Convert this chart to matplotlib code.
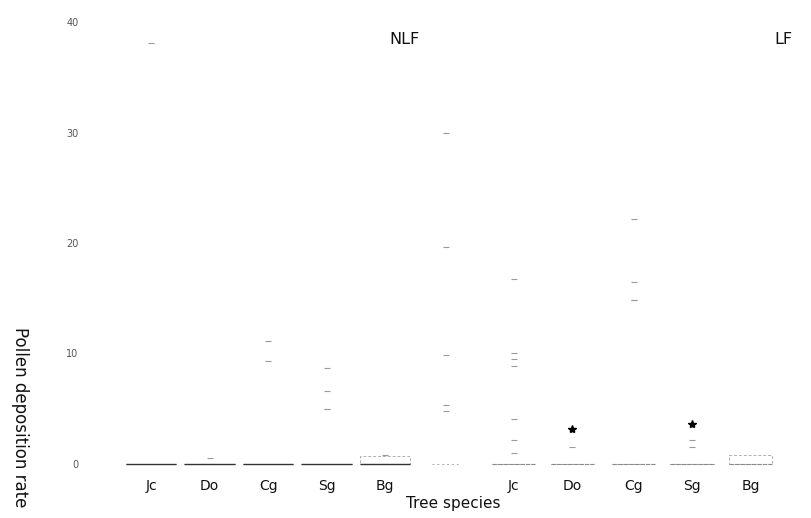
import matplotlib
matplotlib.use("Agg")
import matplotlib.pyplot as plt

# categories
species = ["Jc", "Do", "Cg", "Sg", "Bg"]
nlf_pos = [1, 2, 3, 4, 5]
lf_pos = [7.2, 8.2, 9.25, 10.25, 11.25]
gap_pos = 6.05

# upper quartile of each (collapsed) box, median and lower quartile are 0
nlf_q3 = [0, 0, 0, 0, 0.7]
lf_q3 = [0, 0, 0, 0, 0.8]

# outliers
nlf_fliers = [[38.1], [0.5], [11.1, 9.3], [8.7, 6.6, 5.0, 5.0], [0.8]]
lf_fliers = [[16.7, 10.0, 9.5, 8.9, 4.1, 2.2, 1.0], [1.5], [22.2, 16.5, 14.8, 14.8], [2.2, 1.5], []]
gap_marks = [30, 19.6, 9.9, 5.3, 4.8]

# extreme values (stars)
lf_extremes = [[], [3.2], [], [3.6], []]

yticks = [0, 10, 20, 30, 40]


def make_stats(q3s, fliers):
    stats = []
    for q3, fl in zip(q3s, fliers):
        stats.append({"med": 0, "q1": 0, "q3": q3, "whislo": 0, "whishi": q3, "fliers": fl})
    return stats


fig = plt.figure(figsize=(8.12, 5.18), dpi=100)
ax = fig.add_axes([95 / 812, 1 - 475 / 518, 1 - 95 / 812, 475 / 518])

flier_style = dict(marker="_", markersize=5, markeredgecolor="#9a9a9a", markeredgewidth=0.8, linestyle="none")
faint_box = dict(color="#b0b0b0", linewidth=0.7, linestyle=(0, (3, 2)))

ax.bxp(make_stats(nlf_q3, nlf_fliers), positions=nlf_pos, widths=0.86, showcaps=False,
       boxprops=faint_box,
       medianprops=dict(color="#333333", linewidth=1.0),
       whiskerprops=dict(color="#b0b0b0", linewidth=0.5),
       flierprops=flier_style)
ax.bxp(make_stats(lf_q3, lf_fliers), positions=lf_pos, widths=0.74, showcaps=False,
       boxprops=faint_box,
       medianprops=dict(color="#8a8a8a", linewidth=0.8, linestyle=(0, (4, 1))),
       whiskerprops=dict(color="#b0b0b0", linewidth=0.5),
       flierprops=flier_style)

# faint unlabeled column between the two groups
ax.plot([gap_pos] * len(gap_marks), gap_marks, **flier_style)
ax.plot([gap_pos - 0.25, gap_pos + 0.2], [0, 0], color="#aaaaaa", linewidth=0.7, linestyle=(0, (2, 3)))

for p, ex in zip(lf_pos, lf_extremes):
    if ex:
        ax.plot([p] * len(ex), ex, marker="*", markersize=6, color="black", linestyle="none")

ax.set_xlim(0.04, 12.3)
ax.set_ylim(-1.0, 42.0)
ax.set_yticks(yticks)
ax.set_yticklabels([str(t) for t in yticks], fontsize=7, color="#555555")
ax.set_xticks(nlf_pos + lf_pos)
ax.set_xticklabels(species + species, fontsize=10, color="#111111")
ax.tick_params(axis="both", length=0)
ax.tick_params(axis="y", pad=12)
ax.tick_params(axis="x", pad=3)
for s in ax.spines.values():
    s.set_visible(False)

ax.set_xlabel("Tree species", fontsize=11, labelpad=2, color="#111111")
fig.text(405 / 812, 1 - 40 / 518, "NLF", fontsize=11.5, ha="center", va="center", color="#111111")
fig.text(783 / 812, 1 - 40 / 518, "LF", fontsize=11.5, ha="center", va="center", color="#111111")
fig.text(20 / 812, 1 - 327 / 518, "Pollen deposition rate", fontsize=12, rotation=270,
         ha="center", va="top", color="#111111")

fig.savefig("out.png", dpi=100)
